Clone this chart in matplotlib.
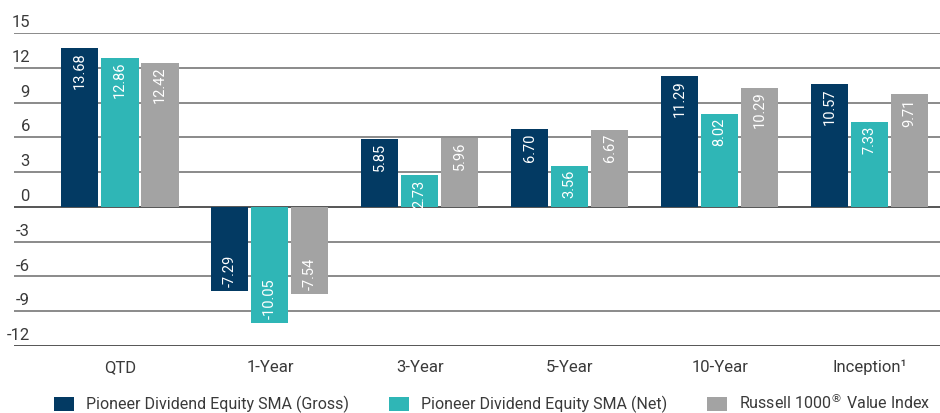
import matplotlib.pyplot as plt
from matplotlib.patches import Patch
import matplotlib.transforms as mtransforms
import numpy as np

plt.rcParams['font.family'] = ['Roboto', 'DejaVu Sans']

categories = ["QTD", "1-Year", "3-Year", "5-Year", "10-Year", "Inception\u00b9"]
gross = [13.68, -7.29, 5.85, 6.70, 11.29, 10.57]
net = [12.86, -10.05, 2.73, 3.56, 8.02, 7.33]
russell = [12.42, -7.54, 5.96, 6.67, 10.29, 9.71]
series_names = ["Pioneer Dividend Equity SMA (Gross)",
                "Pioneer Dividend Equity SMA (Net)",
                "Russell 1000$^{\u00ae}$ Value Index"]
yticks = [-12, -9, -6, -3, 0, 3, 6, 9, 12, 15]

colors = ["#033a63", "#2fb6b6", "#a3a3a3"]
text_col = "#3a3a3a"

fig = plt.figure(figsize=(9.4, 4.13), dpi=100)
ax = fig.add_axes([14 / 940, 67 / 413, 1 - 14 / 940, (346 - 33) / 413])

x = np.arange(len(categories))
width = 0.247
step = 0.267

# gridlines behind the bars
for t in yticks:
    ax.axhline(t, color="#555555" if t in (0, -12) else "#8a8a8a", lw=1.4, zorder=0)

trans_lab = mtransforms.blended_transform_factory(fig.transFigure, ax.transData)
for t in yticks:
    ax.text(30 / 940, t + 0.25, str(t), transform=trans_lab, ha="right", va="bottom",
            fontsize=12, color=text_col)

for i, (vals, col) in enumerate(zip([gross, net, russell], colors)):
    pos = x + (i - 1) * step
    ax.bar(pos, vals, width=width, color=col, zorder=2)
    for p, v in zip(pos, vals):
        if v >= 0:
            ax.text(p, v - 0.35, f"{v:.2f}", rotation=90, ha="center", va="top",
                    color="white", fontsize=10.5, zorder=3)
        else:
            ax.text(p, v + 0.35, f"{v:.2f}", rotation=90, ha="center", va="bottom",
                    color="white", fontsize=10.5, zorder=3)

ax.set_xlim(-0.707, 5.47)
ax.set_ylim(-12, 15)
for s in ax.spines.values():
    s.set_visible(False)
ax.set_yticks([])
ax.set_xticks(x)
ax.set_xticklabels(categories, fontsize=12, color=text_col)
ax.tick_params(axis="x", length=0, pad=10)

handles = [Patch(facecolor=c, edgecolor="none") for c in colors]
fig.legend(handles, series_names, loc="lower left", bbox_to_anchor=(40 / 940, -0.035),
           ncol=3, frameon=False, fontsize=11.5, handlelength=1.25, handleheight=0.94,
           handletextpad=0.75, columnspacing=2.5, labelcolor=text_col)

fig.savefig("out.png", dpi=100)
